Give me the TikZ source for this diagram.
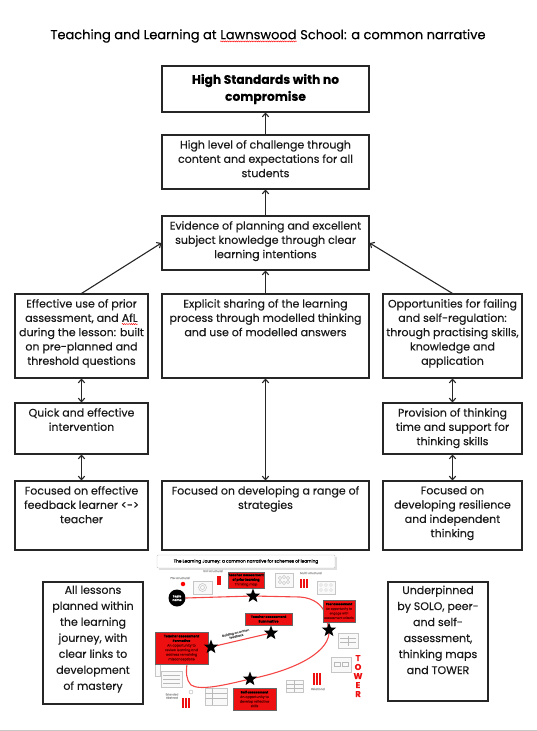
\documentclass[tikz,border=0pt]{standalone}
\usepackage{fontspec}
\setmainfont{Poppins}[FakeBold=0.3]
\usetikzlibrary{arrows.meta,shapes.geometric,fit,calc,decorations.pathmorphing}
\newcommand\redsquig[1]{\tikz[baseline=(w.base),x=1pt,y=1pt]{\node[inner sep=0pt,outer sep=0pt,rotate=0](w){#1};\draw[red,line width=0.45pt,decorate,decoration={snake,amplitude=0.55pt,segment length=2.2pt}] ([yshift=-2.2pt]w.base west) -- ([yshift=-2.2pt]w.base east);}}
\definecolor{jred}{RGB}{238,16,16}
\definecolor{dred}{RGB}{105,0,0}
\definecolor{loopred}{RGB}{245,70,70}
\begin{document}
\begin{tikzpicture}[x=1pt,y=-1pt,
  box/.style={draw=black!85,line width=1.1pt,inner sep=0pt,fill=white},
  txt/.style={inner sep=0pt,align=center,font=\fontsize{11}{14.3}\selectfont,text=black!90},
  arr/.style={line width=1.1pt,draw=black!85,-{Straight Barb[length=3.5pt,width=6.5pt]}},
  darr/.style={line width=1.1pt,draw=black!85,{Straight Barb[length=3.5pt,width=6.5pt]}-{Straight Barb[length=3.5pt,width=6.5pt]}},
  rbox/.style={fill=jred,draw=black!60,line width=0.3pt,inner sep=0pt},
  rtxt/.style={inner sep=0pt,align=center,font=\fontsize{3.3}{4.6}\selectfont,text=black},
  star5/.style={star,star points=5,star point ratio=2.4,fill=black,minimum size=15pt,inner sep=0pt},
  ico/.style={draw=gray!45,fill=gray!5,line width=0.4pt,inner sep=0pt},
  solo/.style={inner sep=0pt,font=\fontsize{2.8}{3.2}\selectfont,text=gray!75,align=center},
  loopline/.style={draw=loopred,line width=1.1pt},
]
\useasboundingbox (0,0) rectangle (537,731);

% title
\node[inner sep=0pt,font=\fontsize{13}{15}\selectfont,text=black] (title) at (268,36)
  {Teaching and Learning at \redsquig{Lawnswood} School: a common narrative};

% main boxes
\node[box,fit={(162,66) (369,112)}] (b1) {};
\node[txt,font=\fontsize{12.3}{17}\selectfont\bfseries,text=black] (b1t) at (b1.center) {High Standards with no\\compromise};
\node[box,fit={(162,135) (369,189)}] (b2) {};
\node[txt,anchor=north] (b2t) at ([yshift=-5.5pt]b2.north) {High level of challenge through\\content and expectations for all\\students};
\node[box,fit={(162,216) (369,270)}] (b3) {};
\node[txt,anchor=north] (b3t) at ([yshift=-5.5pt]b3.north) {Evidence of planning and excellent\\subject knowledge through clear\\learning intentions};

\node[box,fit={(15,294) (148,378)}] (l4) {};
\node[txt,anchor=north] (l4t) at ([yshift=-5.5pt]l4.north) {Effective use of prior\\assessment, and \redsquig{AfL}\\during the lesson: built\\on pre-planned and\\threshold questions};
\node[box,fit={(162,294) (369,378)}] (m4) {};
\node[txt,anchor=north] (m4t) at ([yshift=-5.5pt]m4.north) {Explicit sharing of the learning\\process through modelled thinking\\and use of modelled answers};
\node[box,fit={(383,294) (522,378)}] (r4) {};
\node[txt,anchor=north] (r4t) at ([yshift=-5.5pt]r4.north) {Opportunities for failing\\and self-regulation:\\through practising skills,\\knowledge and\\application};

\node[box,fit={(15,403) (148,454)}] (l5) {};
\node[txt,anchor=north] (l5t) at ([yshift=-5.5pt]l5.north) {Quick and effective\\intervention};
\node[box,fit={(383,403) (522,454)}] (r5) {};
\node[txt,anchor=north] (r5t) at ([yshift=-5.5pt]r5.north) {Provision of thinking\\time and support for\\thinking skills};

\node[box,fit={(15,481) (148,550)}] (l6) {};
\node[txt,anchor=north] (l6t) at ([yshift=-5.5pt]l6.north) {Focused on effective\\feedback learner <->\\teacher};
\node[box,fit={(162,481) (369,550)}] (m6) {};
\node[txt,anchor=north] (m6t) at ([yshift=-5.5pt]m6.north) {Focused on developing a range of\\strategies};
\node[box,fit={(383,481) (522,550)}] (r6) {};
\node[txt,anchor=north] (r6t) at ([yshift=-5.5pt]r6.north) {Focused on\\developing resilience\\and independent\\thinking};

% bottom side boxes
\node[box,fit={(43,582) (143,704)}] (bl) {};
\node[txt,anchor=north,font=\fontsize{11}{16}\selectfont] (blt) at ([yshift=-4pt]bl.north) {All lessons\\planned within\\the learning\\journey, with\\clear links to\\development\\of mastery};
\node[box,fit={(388,582) (488,701)}] (br) {};
\node[txt,anchor=north,font=\fontsize{11}{16}\selectfont] (brt) at ([yshift=-4pt]br.north) {Underpinned\\by SOLO, peer-\\and self-\\assessment,\\thinking maps\\and TOWER};

% arrows
\draw[arr] (b2.north) -- (b1.south);
\draw[arr] (b3.north) -- (b2.south);
\draw[arr] (m4.north) -- (b3.south);
\draw[arr] (l4.north) -- (b3.west);
\draw[arr] (r4.north) -- (b3.east);
\draw[darr] (l4.south) -- (l5.north);
\draw[darr] (l5.south) -- (l6.north);
\draw[darr] (r4.south) -- (r5.north);
\draw[darr] (r5.south) -- (r6.north);
\draw[darr] (m4.south) -- (m6.north);

% ---------- embedded learning journey picture ----------
\fill[gray!25] (158.5,556.5) rectangle (336.5,569.5);
\node[draw=gray!45,fill=white,rounded corners=1pt,inner sep=0pt,fit={(157,555) (335,568)}] (jt) {};
\node[inner sep=0pt,font=\fontsize{4.3}{5}\selectfont] (jtt) at (jt.center) {The Learning Journey: a common narrative for schemes of learning};

\coordinate (p1) at (300,597);
\coordinate (p2) at (326,616);
\coordinate (p3) at (191,685);
\coordinate (p4) at (187,664);
\node[circle,fill=black,minimum size=17pt,inner sep=0pt,align=center,text=white,font=\fontsize{3}{3.6}\selectfont\bfseries] (topic) at (177,598) {Topic\\name};
\coordinate (s1) at (253,596);
\coordinate (s2) at (329,630);
\coordinate (s3) at (250,679);
\coordinate (s4) at (211,647);
\coordinate (s5) at (271,633);

% red loop
\draw[loopline] (topic.east) -- (s1) -- (p1) .. controls (314,598) and (323,605) .. (p2) -- (s2)
  .. controls (331,650) and (300,669) .. (s3) .. controls (225,685) and (200,691) .. (p3)
  .. controls (186,680) and (186,672) .. (p4);
\draw[loopline] (s4) -- (s5);
\node[inner sep=0pt,rotate=13,align=center,text=gray!70!black,font=\fontsize{3}{3.5}\selectfont] (bw) at (236,634.5) {Building on written\\feedback};

% icons
\node[circle,fill=red,minimum size=4.5pt,inner sep=0pt] (pdot) at (183,584) {};
\node[solo] (pre) at (180,578) {Pre-structural};
\node[ico,fit={(193,581) (212,594)}] (i1) {};
\draw[gray!55,line width=0.4pt] (i1.center) circle (4pt) (i1.center) circle (2pt);
\node[solo] (uni) at (213,571) {Uni-structural};
\node[fill=jred,inner sep=0pt,minimum width=4pt,minimum height=9pt] (unib) at (219,580.5) {};
\node[ico,fit={(275,573) (293,587)}] (i2) {};
\foreach \dx/\dy in {-4/-2,0/-3,4/-2,-4/2,0/3,4/2}
  \draw[gray!55,line width=0.3pt] ($(i2.center)+(\dx,\dy)$) circle (1.6pt);
\node[solo] (multi) at (311,573) {Multi-structural};
\foreach \bx in {301,304,307}
  \fill[jred] (\bx-1.2,579) rectangle (\bx+1.2,588);
\node[ico,fit={(317,581) (335,594)}] (i3) {};
\foreach \gx in {321,326,331} \foreach \gy in {585,590}
  \draw[gray!55,line width=0.3pt] (\gx,\gy) circle (1.5pt);

\node[ico,fit={(155,662) (160,676)}] (i4) {};
\node[ico,fit={(161,671) (182,687)}] (i5) {};
\draw[gray!55,line width=0.3pt] (163,675) -- (180,675) (163,679) -- (180,679) (163,683) -- (180,683);
\node[solo] (ext) at (172,696) {Extended\\Abstract};
\foreach \bx in {183,186,189}
  \fill[jred] (\bx-1.2,698) rectangle (\bx+1.2,708);
\draw[gray!60,line width=0.4pt] (191,692) circle (2pt);
\node[ico,fit={(205,688) (227,705)}] (i6) {};
\draw[gray!55,line width=0.3pt] (212,688) -- (212,705) (205,693) -- (227,693) (205,698) -- (227,698);
\node[ico,fit={(286,680) (303,692)}] (i7) {};
\draw[gray!55,line width=0.3pt] (286,684) -- (303,684) (286,688) -- (303,688) (294.5,680) -- (294.5,692);
\foreach \bx in {314,317,320}
  \fill[jred] (\bx-1.2,673) rectangle (\bx+1.2,685);
\node[solo] (rel) at (318,689) {Relational};
\node[ico,fit={(338,633) (358,648)}] (i8) {};
\draw[gray!55,line width=0.3pt] (340,638) -- (356,638) (340,642) -- (356,642) (348,636) -- (348,646);
\node[ico,fit={(331,657) (351,672)}] (i9) {};
\draw[gray!55,line width=0.3pt] (334,662) rectangle (340,666) (342,662) rectangle (348,666);

% red boxes
\node[rbox,fit={(228,572) (264,588)}] (rb1) {};
\node[rtxt] (rb1t) at (rb1.center) {\textbf{Teacher assessment}\\\textbf{of prior learning}\\\textcolor{dred}{Thinking map}};
\node[rbox,fit={(323,600) (355,622)}] (rb2) {};
\node[rtxt,font=\fontsize{3}{4.6}\selectfont] (rb2t) at (rb2.center) {\textbf{Peer assessment}\\\textcolor{dred}{An opportunity to}\\\textcolor{dred}{engage with}\\\textcolor{dred}{assessment criteria}};
\node[rbox,fit={(245,613) (292,625)}] (rb3) {};
\node[rtxt] (rb3t) at (rb3.center) {\textbf{Teacher assessment}\\\textbf{Summative}};
\node[rbox,fit={(155,632) (208,664)}] (rb4) {};
\node[rtxt] (rb4t) at (rb4.center) {\textbf{Teacher assessment}\\\textbf{Formative}\\\textcolor{dred}{An opportunity to}\\\textcolor{dred}{review learning and}\\\textcolor{dred}{address remaining}\\\textcolor{dred}{misconceptions}};
\node[rbox,fit={(233,688) (276,710)}] (rb5) {};
\node[rtxt] (rb5t) at (rb5.center) {\textbf{Self assessment}\\\textcolor{dred}{An opportunity to}\\\textcolor{dred}{develop reflective}\\\textcolor{dred}{skills}};

% stars on top
\node[star5] (st1) at (s1) {};
\node[star5] (st2) at (s2) {};
\node[star5] (st3) at (s3) {};
\node[star5] (st4) at (s4) {};
\node[star5] (st5) at (s5) {};

\node[inner sep=0pt,align=center,text=jred,font=\fontsize{8.5}{9}\selectfont\bfseries] (tower) at (358,676) {T\\O\\W\\E\\R};

% page edge line
\draw[gray!45,line width=1pt] (0,730.3) -- (537,730.3);
\end{tikzpicture}
\end{document}
